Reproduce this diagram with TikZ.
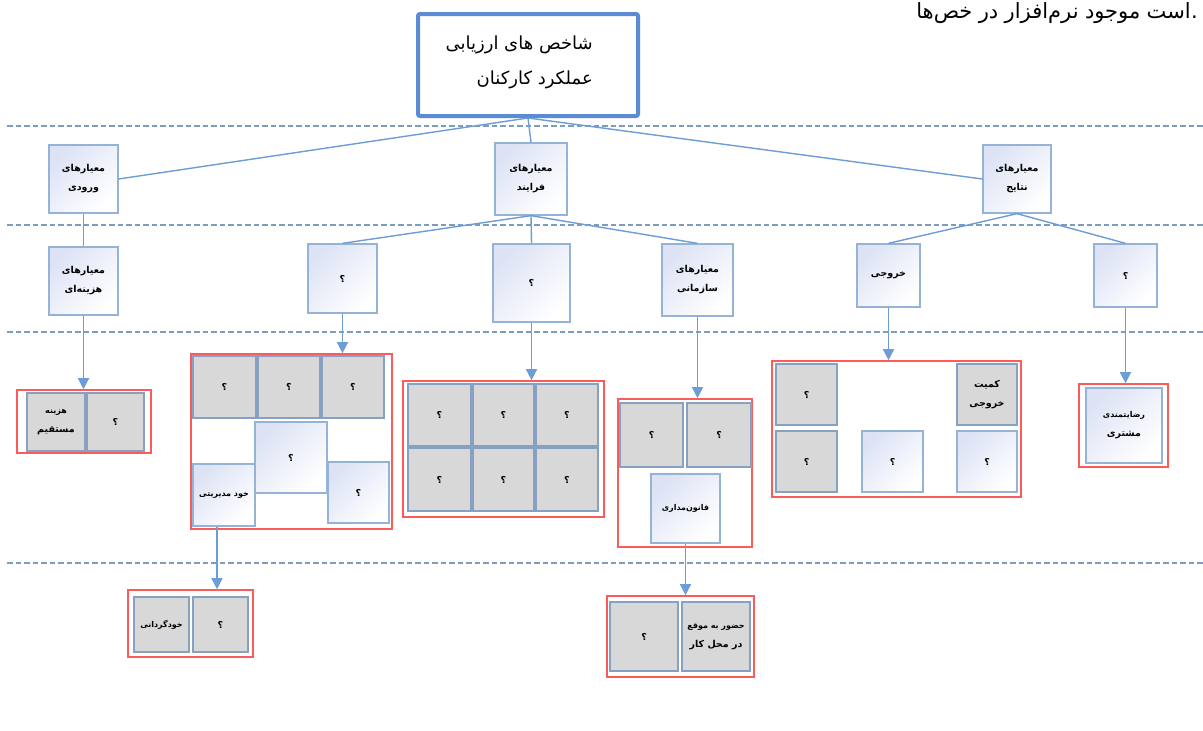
\documentclass[tikz,border=0pt]{standalone}
\usepackage{fontspec}
\newfontfamily\fa[Script=Arabic]{DejaVu Sans}
\TeXXeTstate=1
\usetikzlibrary{arrows.meta,shadows}
\definecolor{bxc}{HTML}{95B3D7}
\definecolor{gtop}{HTML}{DDE3F5}
\definecolor{grayf}{HTML}{D8D8D8}
\definecolor{redc}{HTML}{FF5A5A}
\definecolor{conc}{HTML}{6D9DD6}
\definecolor{dshc}{HTML}{7C9CC0}
\definecolor{topc}{HTML}{5B8BD3}
\newcommand\R[1]{\beginR #1\endR}
\newcommand\lbl{\fa\bfseries\fontsize{9.5}{19}\selectfont}
\newcommand\lbs{\fa\bfseries\fontsize{8}{15}\selectfont}
\newcommand\bx[7]{\node[#2, minimum width={(#5)-(#3)}, minimum height={(#6)-(#4)}] (#1) at ({((#3)+(#5))/2},{((#4)+(#6))/2}) {#7};}
\tikzset{
  gbox/.style={draw=bxc, line width=1.3pt, top color=gtop, bottom color=white, shading angle=45, inner sep=1pt, align=center, font=\lbl},
  graybox/.style={draw=bxc!90!black, line width=1.3pt, fill=grayf, inner sep=1pt, align=center, font=\lbl},
  redbox/.style={draw=redc, line width=1.6pt, fill=white, inner sep=0pt, drop shadow={opacity=0.12, shadow xshift=1.2pt, shadow yshift=-1.2pt}},
  con/.style={draw=conc, line width=1.4pt},
  arr/.style={con, -{Triangle[length=11pt,width=11pt]}},
  dsh/.style={draw=dshc, line width=1.8pt, dash pattern=on 5.5pt off 3pt},
  word/.style={inner sep=0pt, anchor=base east, font=\fa\fontsize{21}{24}\selectfont}
}
\begin{document}
\begin{tikzpicture}[x=1pt,y=-1pt]
\useasboundingbox (0,0) rectangle (1203,731);
\fill[white] (0,0) rectangle (1203,731);
% dashed level separators
\foreach \yy/\nm in {126/da,225/db,332/dc,563/dd}{
  \coordinate (\nm l) at (7,\yy); \coordinate (\nm r) at (1203,\yy);
  \draw[dsh] (\nm l) -- (\nm r);
}
% note at top right: words placed one by one, left to right as in the reference
\node[word] (w6) at (1198,18) {.};
\node[word] (w5) at (w6.base west) {\R{است}};
\node[word] (w4) at ([xshift=-6pt]w5.base west) {\R{موجود}};
\node[word] (w3) at ([xshift=-6pt]w4.base west) {\R{نرم‌افزار}};
\node[word] (w2) at ([xshift=-6pt]w3.base west) {\R{در}};
\node[word] (w1) at ([xshift=-6pt]w2.base west) {\R{خص‌ها}};
% top box
\node[draw=topc, line width=4pt, rounded corners=2pt, minimum width=220, minimum height=102] (top) at (528,65) {};
\node[anchor=east, align=right, inner sep=0pt, font=\fa\fontsize{18}{35}\selectfont] (toptxt) at (593,62) {\R{شاخص های ارزیابی}\\\R{عملکرد کارکنان}};
% level 1
\bx{inp}{gbox}{49}{145}{118}{213}{\R{معیارهای}\\\R{ورودی}}
\bx{proc}{gbox}{495}{143}{567}{215}{\R{معیارهای}\\\R{فرایند}}
\bx{res}{gbox}{983}{145}{1051}{213}{\R{معیارهای}\\\R{نتایج}}
% level 2
\bx{cost}{gbox}{49}{247}{118}{315}{\R{معیارهای}\\\R{هزینه‌ای}}
\bx{qa}{gbox}{308}{244}{377}{313}{\R{؟}}
\bx{qb}{gbox}{493}{244}{570}{322}{\R{؟}}
\bx{org}{gbox}{662}{244}{733}{316}{\R{معیارهای}\\\R{سازمانی}}
\bx{outp}{gbox}{857}{244}{920}{307}{\R{خروجی}}
\bx{qr}{gbox}{1094}{244}{1157}{307}{\R{؟}}
% group A
\bx{gA}{redbox}{17}{390}{151}{453}{}
\bx{a1}{graybox}{27}{393}{85}{451}{\lbs\R{هزینه}\\\R{مستقیم}}
\bx{a2}{graybox}{87}{393}{144}{451}{\R{؟}}
% group B
\bx{gB}{redbox}{191}{354}{392}{529}{}
\bx{b1}{graybox}{193}{356}{256}{418}{\R{؟}}
\bx{b2}{graybox}{258}{356}{320}{418}{\R{؟}}
\bx{b3}{graybox}{322}{356}{384}{418}{\R{؟}}
\bx{b4}{gbox}{255}{422}{327}{493}{\R{؟}}
\bx{b5}{gbox}{328}{462}{389}{523}{\R{؟}}
\bx{kh}{gbox}{193}{464}{255}{526}{\lbs\R{خود مدیریتی}}
% group C
\bx{gC}{redbox}{403}{381}{604}{517}{}
\bx{c1}{graybox}{408}{384}{471}{446}{\R{؟}}
\bx{c2}{graybox}{473}{384}{534}{446}{\R{؟}}
\bx{c3}{graybox}{536}{384}{598}{446}{\R{؟}}
\bx{c4}{graybox}{408}{448}{471}{511}{\R{؟}}
\bx{c5}{graybox}{473}{448}{534}{511}{\R{؟}}
\bx{c6}{graybox}{536}{448}{598}{511}{\R{؟}}
% group D
\bx{gD}{redbox}{618}{399}{752}{547}{}
\bx{d1}{graybox}{620}{403}{683}{467}{\R{؟}}
\bx{d2}{graybox}{687}{403}{751}{467}{\R{؟}}
\bx{law}{gbox}{651}{474}{720}{543}{\lbs\R{قانون‌مداری}}
% group G
\bx{gG}{redbox}{772}{361}{1021}{497}{}
\bx{g1}{graybox}{776}{364}{837}{425}{\R{؟}}
\bx{g2}{graybox}{957}{364}{1017}{425}{\R{کمیت}\\\R{خروجی}}
\bx{g3}{graybox}{776}{431}{837}{492}{\R{؟}}
\bx{g4}{gbox}{862}{431}{923}{492}{\R{؟}}
\bx{g5}{gbox}{957}{431}{1017}{492}{\R{؟}}
% group H
\bx{gH}{redbox}{1079}{384}{1168}{467}{}
\bx{h1}{gbox}{1086}{388}{1162}{463}{\lbs\R{رضایتمندی}\\\R{مشتری}}
% group E
\bx{gE}{redbox}{128}{590}{253}{657}{}
\bx{e1}{graybox}{134}{597}{189}{652}{\lbs\R{خودگردانی}}
\bx{e2}{graybox}{193}{597}{248}{652}{\R{؟}}
% group F
\bx{gF}{redbox}{607}{596}{754}{677}{}
\bx{f1}{graybox}{610}{602}{678}{671}{\R{؟}}
\bx{f2}{graybox}{682}{602}{750}{671}{\lbs\R{حضور به موقع}\\\R{در محل کار}}
% connectors
\draw[con] (top.south) -- (inp.east);
\draw[con] (top.south) -- (proc.north);
\draw[con] (top.south) -- (res.west);
\draw[con] (inp.south) -- (cost.north);
\draw[con] (proc.south) -- (qa.north);
\draw[con] (proc.south) -- (qb.north);
\draw[con] (proc.south) -- (org.north);
\draw[con] (res.south) -- (outp.north);
\draw[con] (res.south) -- (qr.north);
\draw[arr] (cost.south) -- (cost.south |- gA.north);
\draw[arr] (qa.south) -- (qa.south |- gB.north);
\draw[arr] (qb.south) -- (qb.south |- gC.north);
\draw[arr] (org.south) -- (org.south |- gD.north);
\draw[arr] (outp.south) -- (outp.south |- gG.north);
\draw[arr] (qr.south) -- (qr.south |- gH.north);
\draw[arr] ([xshift=-7pt]kh.south) -- ([xshift=-7pt]kh.south |- gE.north);
\draw[arr] (law.south) -- (law.south |- gF.north);
\end{tikzpicture}
\end{document}
